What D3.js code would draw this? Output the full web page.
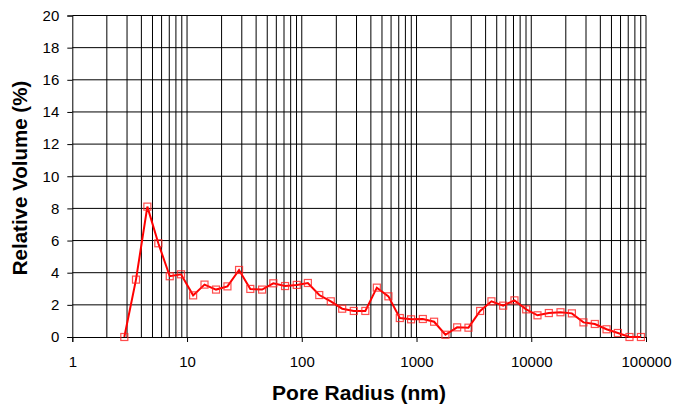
<!DOCTYPE html>
<html>
<head>
<meta charset="utf-8">
<script src="https://cdn.jsdelivr.net/npm/d3@7"></script>
<style>
  body { margin: 0; background: #fff; }
  text { font-family: "Liberation Sans", Arial, sans-serif; }
</style>
</head>
<body>
<svg id="chart" width="676" height="406"></svg>
<script>
// pore radius (nm) and relative volume (%)
const poreRadius = [2.84, 3.59, 4.51, 5.62, 7.07, 8.86, 11.3, 14.2, 17.9, 22.5, 28.4, 35.6,
	45.1, 56.5, 71.5, 90.4, 113, 142, 179, 225, 284, 358, 451, 569, 715, 897, 1135, 1423,
	1786, 2260, 2836, 3584, 4498, 5690, 7140, 9030, 11330, 14230, 17980, 22600, 28500,
	35800, 45300, 56900, 71800, 90300]
const relVolume = [0, 3.57, 8.11, 5.83, 3.78, 3.90, 2.59, 3.26, 2.95, 3.15, 4.17, 2.99,
	2.95, 3.34, 3.17, 3.24, 3.36, 2.61, 2.22, 1.76, 1.62, 1.62, 3.07, 2.53, 1.18, 1.10, 1.12, 0.95,
	0.14, 0.60, 0.58, 1.62, 2.22, 1.95, 2.28, 1.72, 1.35, 1.49, 1.54, 1.47, 0.91,
	0.81, 0.48, 0.25, 0, 0]
const xTicks = [1, 10, 100, 1000, 10000, 100000]
const yTicks = [0, 2, 4, 6, 8, 10, 12, 14, 16, 18, 20]

const data = poreRadius.map((r, i) => ({ r: r, v: relVolume[i] }))

const margin = { top: 15.5, right: 30, bottom: 69, left: 72.3 }
const svg = d3.select("#chart")
const width = 676 - margin.left - margin.right
const height = 406 - margin.top - margin.bottom

const x = d3.scaleLog().domain([1, 100000]).range([0, width])
const y = d3.scaleLinear().domain([0, 20]).range([height, 0])

const g = svg.append("g").attr("transform", `translate(${margin.left},${margin.top})`)

// vertical grid at every 1..9 step of each decade
let gridX = []
for (let p = 0; p < 5; p++) {
	for (let m = 2; m <= 10; m++) gridX.push(m * Math.pow(10, p))
}
g.selectAll("line.vgrid")
	.data(gridX)
	.enter().append("line")
	.attr("class", "vgrid")
	.attr("x1", d => x(d)).attr("x2", d => x(d))
	.attr("y1", 0).attr("y2", height)
	.attr("stroke", "#000")
	.attr("stroke-width", 1)

// horizontal grid
g.selectAll("line.hgrid")
	.data(yTicks.filter(d => d > 0))
	.enter().append("line")
	.attr("class", "hgrid")
	.attr("x1", 0).attr("x2", width)
	.attr("y1", d => y(d)).attr("y2", d => y(d))
	.attr("stroke", "#000")
	.attr("stroke-width", 1)

// axes
g.append("g")
	.call(d3.axisLeft(y).tickValues(yTicks).tickSize(5).tickPadding(8))
g.append("g")
	.attr("transform", `translate(0,${height})`)
	.call(d3.axisBottom(x).tickValues(xTicks).tickFormat(d3.format("d")).tickSize(5).tickPadding(14))

svg.selectAll(".domain").attr("stroke", "#000")
svg.selectAll(".tick line").attr("stroke", "#000")
svg.selectAll(".tick text")
	.attr("fill", "#000")
	.style("font-size", "15px")
	.style("font-family", "'Liberation Sans', Arial, sans-serif")

// series
const line = d3.line().x(d => x(d.r)).y(d => y(d.v))
g.append("path")
	.datum(data)
	.attr("fill", "none")
	.attr("stroke", "#ff0000")
	.attr("stroke-width", 2)
	.attr("d", line)

g.selectAll("rect.pt")
	.data(data)
	.enter().append("rect")
	.attr("class", "pt")
	.attr("x", d => x(d.r) - 3.5)
	.attr("y", d => y(d.v) - 3.5)
	.attr("width", 7).attr("height", 7)
	.attr("fill", "none")
	.attr("stroke", "#ff2020")
	.attr("stroke-opacity", 0.8)
	.attr("stroke-width", 1.2)

// axis titles
svg.append("text")
	.attr("x", 359)
	.attr("y", 400)
	.attr("text-anchor", "middle")
	.style("font-size", "21px")
	.style("font-weight", "bold")
	.text("Pore Radius (nm)")

svg.append("text")
	.attr("transform", "translate(27,178) rotate(-90)")
	.attr("text-anchor", "middle")
	.style("font-size", "20.5px")
	.style("font-weight", "bold")
	.text("Relative Volume (%)")
</script>
</body>
</html>
